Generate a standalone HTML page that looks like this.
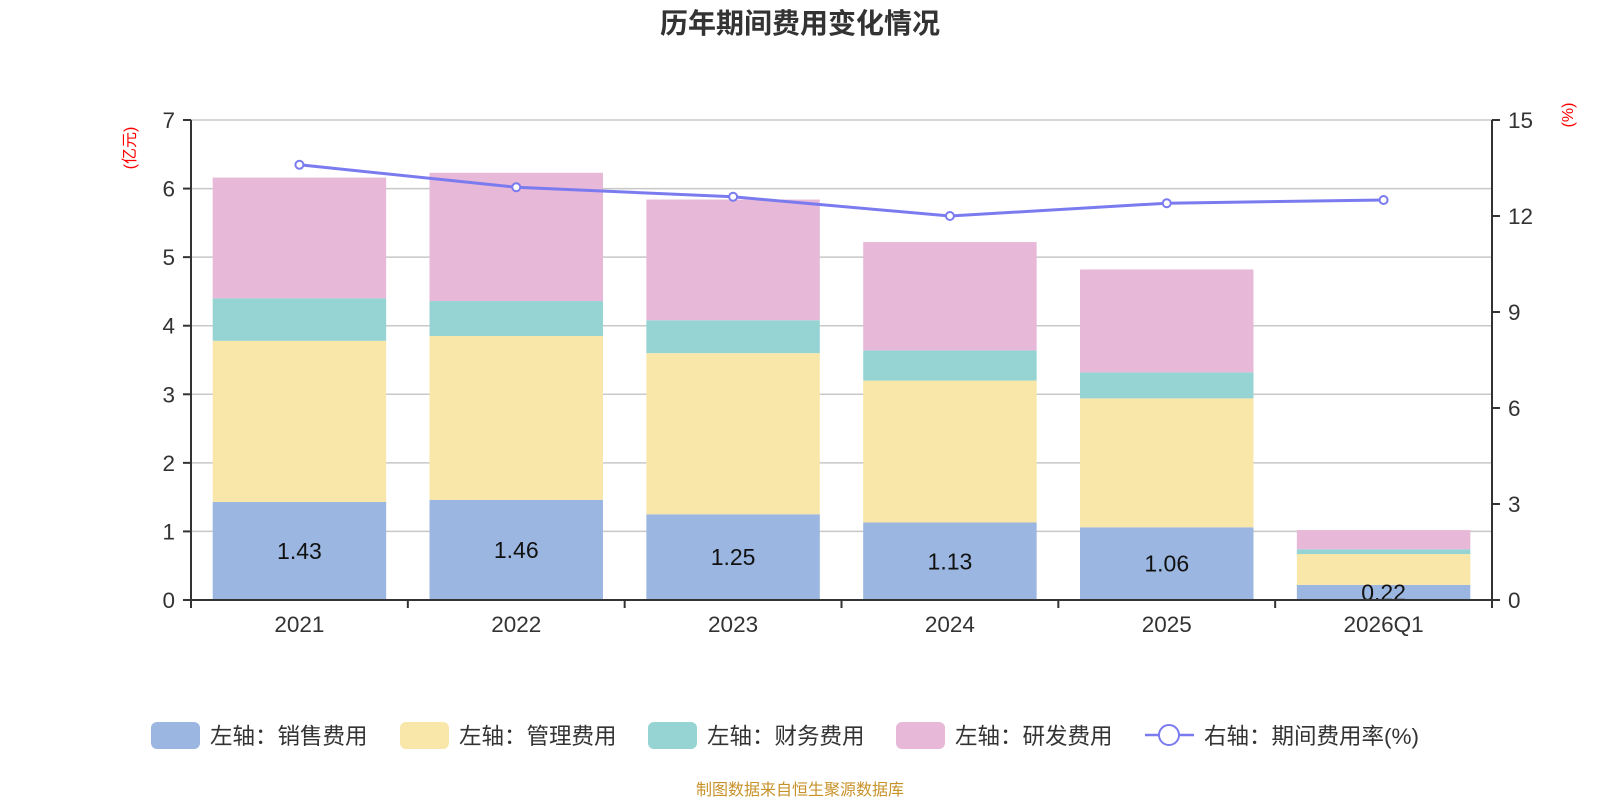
<!DOCTYPE html>
<html><head><meta charset="utf-8"><style>
body{margin:0;background:#fff;}
svg{display:block;font-family:"Liberation Sans","Noto Sans CJK SC",sans-serif;}
</style></head><body>
<svg id="chart" width="1600" height="800" viewBox="0 0 1600 800">
<text x="800" y="33" text-anchor="middle" font-size="28" font-weight="bold" fill="#333">历年期间费用变化情况</text>
<text transform="translate(135,148) rotate(-90)" text-anchor="middle" font-size="16" fill="#f00">(亿元)</text>
<text transform="translate(1573,115) rotate(-90)" text-anchor="middle" font-size="16" fill="#f00">(%)</text>
<g id="grid"></g><g id="bars"></g><g id="axes"></g><g id="line"></g>
<g id="legend" font-size="22.5" fill="#333">
<rect x="151" y="722" width="49" height="27" rx="6" fill="#9bb6e0"/>
<text x="210" y="744">左轴：销售费用</text>
<rect x="400" y="722" width="49" height="27" rx="6" fill="#f8e7a9"/>
<text x="459" y="744">左轴：管理费用</text>
<rect x="648" y="722" width="49" height="27" rx="6" fill="#96d4d4"/>
<text x="707" y="744">左轴：财务费用</text>
<rect x="896" y="722" width="49" height="27" rx="6" fill="#e7b8d7"/>
<text x="955" y="744">左轴：研发费用</text>
<line x1="1145" y1="735" x2="1194" y2="735" stroke="#7b7bf0" stroke-width="2.5"/>
<circle cx="1169" cy="735" r="10" fill="#fff" stroke="#7b7bf0" stroke-width="2"/>
<text x="1204" y="744">右轴：期间费用率(%)</text>
</g>
<text x="800" y="795" text-anchor="middle" font-size="16" fill="#c8922a">制图数据来自恒生聚源数据库</text>
</svg>
<script>
const categories=["2021","2022","2023","2024","2025","2026Q1"];
const sales=[1.43,1.46,1.25,1.13,1.06,0.22];
const admin=[2.35,2.39,2.35,2.07,1.88,0.45];
const finance=[0.62,0.51,0.48,0.44,0.38,0.07];
const rd=[1.76,1.87,1.76,1.58,1.50,0.28];
const rate=[13.6,12.9,12.6,12.0,12.4,12.5];
const leftTicks=[0,1,2,3,4,5,6,7];
const rightTicks=[0,3,6,9,12,15];
const L=191,R=1492,T=120,B=600;
const NS="http://www.w3.org/2000/svg";
const bw=(R-L)/categories.length;
const yL=v=>B-(v/7)*(B-T);
const yR=v=>B-(v/15)*(B-T);
const xC=i=>L+bw*(i+0.5);
function mk(p,tag,a){const e=document.createElementNS(NS,tag);for(const k in a)e.setAttribute(k,a[k]);p.appendChild(e);return e;}
const grid=document.getElementById('grid'),bars=document.getElementById('bars'),axes=document.getElementById('axes'),line=document.getElementById('line');
leftTicks.forEach(v=>{
 const g=mk(grid,'line',{x1:L,x2:R,y1:yL(v),y2:yL(v),stroke:'#c8c8c8','stroke-width':1.5});
 
 
 mk(axes,'line',{x1:L-8,x2:L,y1:yL(v),y2:yL(v),stroke:'#333','stroke-width':2});
 const t=mk(axes,'text',{x:L-16,y:yL(v)+8,'text-anchor':'end','font-size':22.5,fill:'#333'});t.textContent=v;
 
 
});
rightTicks.forEach(v=>{
 mk(axes,'line',{x1:R,x2:R+8,y1:yR(v),y2:yR(v),stroke:'#333','stroke-width':2});
 const t=mk(axes,'text',{x:R+16,y:yR(v)+8,'font-size':22.5,fill:'#333'});t.textContent=v;
 
 
});
mk(axes,'line',{x1:L,x2:L,y1:T,y2:B+8,stroke:'#333','stroke-width':2});
mk(axes,'line',{x1:R,x2:R,y1:T,y2:B+8,stroke:'#333','stroke-width':2});
mk(axes,'line',{x1:L,x2:R,y1:B,y2:B,stroke:'#333','stroke-width':2});
for(let i=0;i<=categories.length;i++)mk(axes,'line',{x1:L+bw*i,x2:L+bw*i,y1:B,y2:B+8,stroke:'#333','stroke-width':2});
const series=[[sales,'#9bb6e0','sales'],[admin,'#f8e7a9','admin'],[finance,'#96d4d4','finance'],[rd,'#e7b8d7','rd']];
const barW=bw*0.8;
categories.forEach((c,i)=>{
 let base=0;
 series.forEach(([arr,col,nm])=>{
  const r=mk(bars,'rect',{x:xC(i)-barW/2,y:yL(base+arr[i]),width:barW,height:yL(base)-yL(base+arr[i]),fill:col});
  
  
  base+=arr[i];
 });
 const lb=mk(bars,'text',{x:xC(i),y:(yL(0)+yL(sales[i]))/2+8,'text-anchor':'middle','font-size':23,fill:'#111'});lb.textContent=sales[i].toFixed(2);
 
 
 const xl=mk(axes,'text',{x:xC(i),y:632,'text-anchor':'middle','font-size':22.5,fill:'#333'});xl.textContent=c;
 
 
});
const pl=mk(line,'polyline',{points:rate.map((v,i)=>xC(i)+','+yR(v)).join(' '),fill:'none',stroke:'#7b7bf0','stroke-width':3});


rate.forEach((v,i)=>{
 const p=mk(line,'circle',{cx:xC(i),cy:yR(v),r:4,fill:'#fff',stroke:'#7b7bf0','stroke-width':2});
 
 
});
</script>
</body></html>
